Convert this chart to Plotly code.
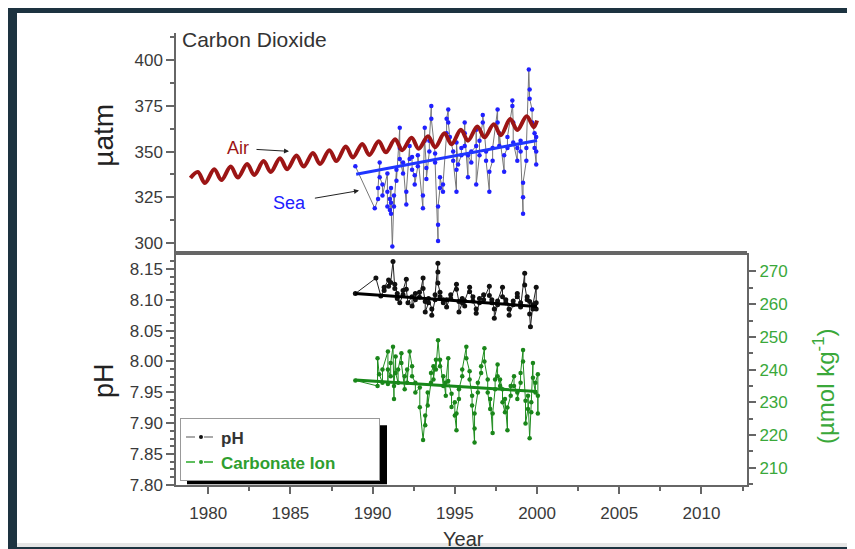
import plotly.graph_objects as go

W, H = 855, 549

# ---------------- data ----------------
air_year = [1978.92,
            1979.37, 1979.80, 1980.37, 1980.80, 1981.37, 1981.80, 1982.37, 1982.80,
            1983.37, 1983.80, 1984.37, 1984.80, 1985.37, 1985.80, 1986.37, 1986.80,
            1987.37, 1987.80, 1988.37, 1988.80, 1989.37, 1989.80, 1990.37, 1990.80,
            1991.37, 1991.80, 1992.37, 1992.80, 1993.37, 1993.80, 1994.37, 1994.80,
            1995.37, 1995.80, 1996.37, 1996.80, 1997.37, 1997.80, 1998.37, 1998.80,
            1999.37, 1999.80, 2000.0]
air_co2 = [335.5,
           338.8, 332.8, 340.4, 334.4, 341.8, 335.8, 343.2, 337.2,
           344.8, 338.8, 346.4, 340.4, 347.8, 341.8, 349.2, 343.2,
           350.8, 344.8, 352.8, 346.8, 354.2, 348.2, 355.6, 349.6,
           356.8, 350.8, 357.6, 351.6, 358.4, 352.4, 360.0, 354.0,
           362.0, 356.0, 363.8, 357.8, 365.0, 359.0, 367.8, 361.8,
           369.4, 363.4, 367.0]

sea_year = [1988.95, 1990.13, 1990.33, 1990.33, 1990.43, 1990.43, 1990.6, 1990.6,
            1990.9, 1990.9, 1990.9, 1991.05, 1991.05, 1991.12, 1991.12, 1991.12,
            1991.2, 1991.3, 1991.3, 1991.45, 1991.45, 1991.65, 1991.65, 1991.65,
            1991.85, 1991.85, 1992.05, 1992.05, 1992.25, 1992.25, 1992.4, 1992.4,
            1992.56, 1992.56, 1992.75, 1992.75, 1993.06, 1993.06, 1993.17, 1993.17,
            1993.27, 1993.27, 1993.45, 1993.45, 1993.57, 1993.57, 1993.8, 1993.8,
            1993.98, 1993.98, 1993.98, 1994.1, 1994.1, 1994.28, 1994.28, 1994.5, 1994.5,
            1994.6, 1994.6, 1994.7, 1994.9, 1994.9, 1995.1, 1995.1, 1995.1, 1995.2,
            1995.4, 1995.4, 1995.6, 1995.6, 1995.6, 1995.8, 1995.8, 1996.0, 1996.0,
            1996.3, 1996.3, 1996.3, 1996.5, 1996.5, 1996.7, 1996.7, 1996.9, 1996.9,
            1997.1, 1997.1, 1997.3, 1997.3, 1997.6, 1997.6, 1997.7, 1997.7,
            1998.0, 1998.0, 1998.2, 1998.2, 1998.5, 1998.5, 1998.55, 1998.55,
            1998.8, 1998.8, 1999.0, 1999.0, 1999.15, 1999.15, 1999.15, 1999.35, 1999.35,
            1999.5, 1999.55, 1999.55, 1999.7, 1999.7, 1999.85, 1999.85,
            1999.95, 1999.95, 1999.95]
sea_pco2 = [342, 319, 324, 330, 344, 336, 332, 326,
            338, 328, 320, 318, 324, 330, 316, 322,
            298, 326, 320, 340, 334, 363, 352, 346,
            338, 344, 321, 328, 353, 346, 347, 340,
            337, 332, 342, 348, 319, 326, 363, 356,
            341, 335, 350, 356, 375, 368, 349, 344,
            301, 310, 320, 330, 336, 328, 332, 360, 368,
            373, 366, 358, 350, 345, 328, 340, 355, 343,
            348, 352, 353, 366, 360, 336, 348, 344, 350,
            353, 362, 332, 348, 356, 366, 370, 350, 345,
            328, 339, 345, 352, 373, 366, 353, 360,
            339, 348, 352, 358, 375, 378, 366, 355,
            345, 352, 356, 350, 316, 325, 333, 345, 352,
            395, 384, 379, 373, 366, 360, 352,
            343, 350, 358]
sea_trend_year = [1989.0, 2000.0]
sea_trend = [337.6, 356.1]

ph_year = [1988.95, 1990.2, 1990.5, 1990.7, 1990.7, 1990.97, 1990.97, 1991.1,
           1991.24, 1991.35, 1991.35, 1991.5, 1991.5, 1991.65, 1991.85, 1991.85,
           1992.05, 1992.05, 1992.15, 1992.4, 1992.4, 1992.6, 1992.6, 1992.85, 1992.85,
           1993.07, 1993.07, 1993.2, 1993.2, 1993.4, 1993.4, 1993.6, 1993.6,
           1993.8, 1993.8, 1993.97, 1993.97, 1993.97, 1994.1, 1994.1, 1994.3, 1994.3,
           1994.5, 1994.5, 1994.75, 1994.75, 1995.1, 1995.1, 1995.25, 1995.25,
           1995.45, 1995.45, 1995.6, 1995.6, 1995.9, 1995.9, 1996.1, 1996.1,
           1996.3, 1996.3, 1996.5, 1996.5, 1996.75, 1996.75, 1997.1, 1997.1,
           1997.25, 1997.25, 1997.4, 1997.4, 1997.6, 1997.6, 1997.9, 1997.9,
           1998.1, 1998.1, 1998.3, 1998.3, 1998.55, 1998.55, 1998.8, 1998.8,
           1999.0, 1999.0, 1999.25, 1999.25, 1999.4, 1999.4, 1999.55, 1999.55,
           1999.6, 1999.75, 1999.75, 1999.95, 1999.95, 1999.95]
ph_val = [8.110, 8.135, 8.106, 8.115, 8.120, 8.132, 8.122, 8.128,
          8.162, 8.118, 8.125, 8.110, 8.102, 8.095, 8.108, 8.115,
          8.133, 8.117, 8.095, 8.105, 8.090, 8.100, 8.110, 8.112, 8.104,
          8.135, 8.118, 8.097, 8.080, 8.095, 8.102, 8.085, 8.075,
          8.100, 8.108, 8.159, 8.145, 8.127, 8.112, 8.105, 8.100, 8.095,
          8.100, 8.088, 8.108, 8.102, 8.125, 8.117, 8.097, 8.080,
          8.095, 8.102, 8.090, 8.098, 8.120, 8.113, 8.105, 8.098,
          8.085, 8.078, 8.095, 8.102, 8.108, 8.100, 8.122, 8.107,
          8.095, 8.100, 8.085, 8.070, 8.092, 8.098, 8.120, 8.105,
          8.095, 8.100, 8.085, 8.075, 8.092, 8.098, 8.105, 8.110,
          8.095, 8.088, 8.143, 8.124, 8.100, 8.105, 8.097, 8.077,
          8.056, 8.085, 8.092, 8.120, 8.095, 8.085]
ph_trend_year = [1988.95, 2000.0]
ph_trend = [8.110, 8.089]

carb_year = [1988.95, 1990.3, 1990.3, 1990.4, 1990.6, 1990.6, 1990.93, 1990.93, 1990.93,
             1991.1, 1991.1, 1991.24, 1991.3, 1991.3, 1991.4, 1991.4, 1991.55, 1991.55,
             1991.75, 1991.75, 1991.95, 1991.95, 1992.1, 1992.1, 1992.25, 1992.4, 1992.4,
             1992.6, 1992.6, 1992.87, 1992.87, 1993.07, 1993.2, 1993.2, 1993.35, 1993.35,
             1993.55, 1993.55, 1993.7, 1993.7, 1993.85, 1993.85, 1993.98, 1994.1, 1994.1,
             1994.3, 1994.3, 1994.45, 1994.45, 1994.6, 1994.6, 1994.8, 1994.8, 1995.0, 1995.0,
             1995.1, 1995.1, 1995.25, 1995.25, 1995.45, 1995.45, 1995.7, 1995.7, 1995.9, 1995.9,
             1996.05, 1996.05, 1996.2, 1996.2, 1996.2, 1996.4, 1996.4, 1996.6, 1996.6,
             1996.8, 1996.8, 1997.0, 1997.0, 1997.15, 1997.15, 1997.3, 1997.3, 1997.45, 1997.45,
             1997.6, 1997.6, 1997.75, 1997.75, 1997.9, 1997.9, 1998.05, 1998.05, 1998.2, 1998.2,
             1998.4, 1998.4, 1998.6, 1998.6, 1998.8, 1998.8, 1999.0, 1999.0, 1999.15, 1999.15,
             1999.3, 1999.3, 1999.45, 1999.45, 1999.55, 1999.65, 1999.65, 1999.75, 1999.75,
             1999.9, 1999.9, 2000.05, 2000.05, 2000.05]
carb_val = [236.7, 235.0, 243.5, 238.6, 236.0, 240.0, 245.5, 235.6, 240.0,
            238.0, 242.0, 247.0, 231.0, 235.0, 244.0, 239.0, 236.0, 240.0,
            245.0, 242.0, 234.0, 238.0, 240.0, 236.0, 245.5, 241.0, 238.0,
            236.0, 233.0, 234.5, 228.5, 218.5, 226.0, 223.0, 233.0, 229.0,
            236.0, 239.0, 241.0, 237.0, 243.0, 240.0, 249.0, 241.0, 243.0,
            235.0, 238.0, 232.0, 236.0, 243.5, 236.5, 232.6, 228.6, 230.0, 226.0,
            221.5, 226.6, 231.0, 234.0, 238.0, 240.0, 247.0, 243.5, 239.5, 237.0,
            232.0, 229.0, 217.7, 222.0, 226.6, 233.0, 236.0, 239.0, 241.0,
            246.5, 242.5, 237.0, 233.0, 228.0, 231.0, 220.6, 226.6, 234.0, 237.0,
            241.6, 238.0, 235.0, 237.0, 234.0, 230.0, 227.0, 231.0, 221.5, 228.4,
            232.0, 235.0, 238.0, 235.0, 233.0, 231.0, 236.0, 239.0, 246.0, 242.5,
            230.5, 223.5, 228.0, 232.0, 219.0, 227.0, 230.0, 242.0, 237.5,
            233.0, 236.0, 238.6, 226.6, 232.0]
carb_trend_year = [1988.95, 2000.0]
carb_trend = [236.8, 233.3]

# ---------------- layout helpers ----------------
def fx(p):
    return p / W

def fy(p):
    return 1 - p / H

FONT = "Liberation Sans, Arial, sans-serif"
AX = "#666666"
TXT = "#3a3a3a"
GREEN_TXT = "#3aa83a"
NB = "\u00a0"

xdom = [fx(168.3), fx(739)]

fig = go.Figure()

# top panel
fig.add_trace(go.Scatter(x=sea_year, y=sea_pco2, mode="lines+markers",
                         line=dict(color="#777777", width=1),
                         marker=dict(color="#2020ff", size=4.5),
                         xaxis="x", yaxis="y", showlegend=False))
fig.add_trace(go.Scatter(x=air_year, y=air_co2, mode="lines",
                         line=dict(color="#9c1515", width=4, shape="spline"),
                         xaxis="x", yaxis="y", showlegend=False))
fig.add_trace(go.Scatter(x=sea_trend_year, y=sea_trend, mode="lines",
                         line=dict(color="#1f35ff", width=3),
                         xaxis="x", yaxis="y", showlegend=False))

# bottom panel
fig.add_trace(go.Scatter(x=ph_year, y=ph_val, mode="lines+markers",
                         line=dict(color="#222222", width=1),
                         marker=dict(color="#111111", size=5),
                         xaxis="x2", yaxis="y2", showlegend=False))
fig.add_trace(go.Scatter(x=ph_trend_year, y=ph_trend, mode="lines",
                         line=dict(color="#000000", width=3),
                         xaxis="x2", yaxis="y2", showlegend=False))
fig.add_trace(go.Scatter(x=carb_year, y=carb_val, mode="lines+markers",
                         line=dict(color="#1e8c1e", width=1),
                         marker=dict(color="#1a861a", size=4.5),
                         xaxis="x2", yaxis="y3", showlegend=False))
fig.add_trace(go.Scatter(x=carb_trend_year, y=carb_trend, mode="lines",
                         line=dict(color="#18881a", width=3),
                         xaxis="x2", yaxis="y3", showlegend=False))

# legend-only entries
fig.add_trace(go.Scatter(x=[None], y=[None], mode="lines+markers",
                         name="<b>pH</b>",
                         line=dict(color="#aaaaaa", width=2, dash="dash"),
                         marker=dict(color="#111111", size=4),
                         xaxis="x2", yaxis="y2"))
fig.add_trace(go.Scatter(x=[None], y=[None], mode="lines+markers",
                         name="<span style='color:#2e9e2e'><b>Carbonate Ion</b></span>" + NB * 8,
                         line=dict(color="#5fbf5f", width=2, dash="dash"),
                         marker=dict(color="#2e9e2e", size=4),
                         xaxis="x2", yaxis="y3"))

minor_common = dict(ticks="outside", ticklen=4, tickwidth=1.5, tickcolor=AX)

fig.update_layout(
    width=W, height=H,
    margin=dict(l=0, r=0, t=0, b=0),
    paper_bgcolor="#1d3340",
    plot_bgcolor="white",
    font=dict(family=FONT, size=17, color=TXT),
    showlegend=True,
    legend=dict(x=fx(172), y=fy(418), xanchor="left", yanchor="top",
                bgcolor="white", bordercolor="#999999", borderwidth=1,
                font=dict(family=FONT, size=17, color="#333333"),
                tracegroupgap=0),
    xaxis=dict(domain=xdom, anchor="y", range=[1978.06, 2012.77],
               showticklabels=False, ticks="", showline=True,
               linecolor=AX, linewidth=2, showgrid=False, zeroline=False),
    yaxis=dict(domain=[fy(248), fy(25)], anchor="x", range=[295.3, 415.2],
               tick0=300, dtick=25, ticks="outside", ticklen=8, tickwidth=2,
               tickcolor=AX, showline=True, linecolor=AX, linewidth=2,
               showgrid=False, zeroline=False,
               tickfont=dict(size=17, color=TXT),
               minor=dict(dtick=12.5, tick0=300, **minor_common)),
    xaxis2=dict(domain=xdom, anchor="y2", range=[1978.06, 2012.77],
                tick0=1980, dtick=5, ticks="outside", ticklen=7, tickwidth=2,
                tickcolor=AX, showline=True, mirror=True, linecolor=AX,
                linewidth=2, showgrid=False, zeroline=False,
                tickfont=dict(size=17, color=TXT), ticklabelstandoff=4,
                minor=dict(dtick=2.5, tick0=1980, **minor_common)),
    yaxis2=dict(domain=[fy(486), fy(252)], anchor="x2", range=[7.7995, 8.1718],
                tick0=7.8, dtick=0.05, tickformat=".2f", ticks="outside",
                ticklen=8, tickwidth=2, tickcolor=AX, showline=True,
                linecolor=AX, linewidth=2, showgrid=False, zeroline=False,
                tickfont=dict(size=17, color=TXT),
                minor=dict(dtick=0.0125, tick0=7.8, **minor_common)),
    yaxis3=dict(overlaying="y2", anchor="x2", side="right",
                range=[204.7, 274.9], tick0=200, dtick=10, ticks="outside",
                ticklen=7, tickwidth=2, tickcolor=AX, showline=True,
                linecolor=AX, linewidth=2, showgrid=False, zeroline=False,
                tickfont=dict(size=17, color=GREEN_TXT),
                minor=dict(dtick=5, tick0=200, **minor_common)),
)

shapes = [
    # white slide area
    dict(type="rect", xref="paper", yref="paper", x0=fx(9), x1=fx(849),
         y0=fy(549), y1=fy(5), fillcolor="white", line=dict(width=0), layer="below"),
    dict(type="rect", xref="paper", yref="paper", x0=fx(9), x1=fx(849),
         y0=fy(549), y1=fy(545), fillcolor="#e6e6e6", line=dict(width=0), layer="below"),
    # legend shadow
    dict(type="rect", xref="paper", yref="paper", x0=fx(179), x1=fx(379),
         y0=fy(485), y1=fy(425), fillcolor="black", line=dict(width=0), layer="above"),
]
fig.update_layout(shapes=shapes)

annotations = [
    dict(text="Carbon Dioxide", xref="paper", yref="paper", x=fx(172), y=fy(32),
         xanchor="left", yanchor="middle", showarrow=False,
         font=dict(size=21, color="#333333")),
    dict(text="µatm", xref="paper", yref="paper", x=fx(96), y=fy(130),
         textangle=-90, showarrow=False, xanchor="center", yanchor="middle",
         font=dict(size=28, color="#222222")),
    dict(text="pH", xref="paper", yref="paper", x=fx(96), y=fy(380),
         textangle=-90, showarrow=False, xanchor="center", yanchor="middle",
         font=dict(size=27, color="#222222")),
    dict(text="(µmol kg<sup>-1</sup>)", xref="paper", yref="paper", x=fx(816),
         y=fy(386), textangle=-90, showarrow=False, xanchor="center",
         yanchor="middle", font=dict(size=24, color=GREEN_TXT)),
    dict(text="Year", xref="paper", yref="paper", x=fx(455), y=fy(541),
         showarrow=False, xanchor="center", yanchor="middle",
         font=dict(size=20, color="#333333")),
    dict(text="Air", xref="paper", yref="paper", x=fx(281), y=fy(146),
         ax=-51, ay=-3, axref="pixel", ayref="pixel", showarrow=True,
         arrowhead=2, arrowsize=1, arrowwidth=1, arrowcolor="#222222",
         startstandoff=6, font=dict(size=18, color="#9c1515")),
    dict(text="Sea", xref="paper", yref="paper", x=fx(351), y=fy(186),
         ax=-70, ay=12, axref="pixel", ayref="pixel", showarrow=True,
         arrowhead=2, arrowsize=1, arrowwidth=1, arrowcolor="#222222",
         startstandoff=8, font=dict(size=18, color="#2020ff")),
]
fig.update_layout(annotations=annotations)

fig.write_html("out.html")
